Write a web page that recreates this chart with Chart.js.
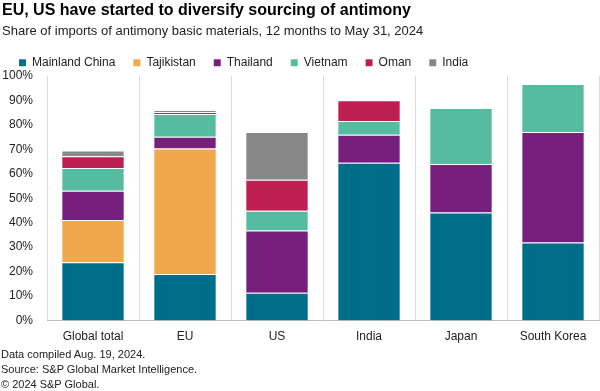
<!DOCTYPE html>
<html>
<head>
<meta charset="utf-8">
<script src="https://cdn.jsdelivr.net/npm/chart.js@4"></script>
<style>
  html, body { margin: 0; padding: 0; background: #fff; }
  #wrap { position: relative; width: 600px; height: 391px; }
  #wrap canvas { position: absolute; left: 0; top: 0; }
  .note { position: absolute; left: 1px; font: 11px "Liberation Sans", Arial, sans-serif; color: #222; white-space: nowrap; }
</style>
</head>
<body>
<div id="wrap">
  <canvas id="chart" width="600" height="391"></canvas>
  <div class="note" style="top:348px">Data compiled Aug. 19, 2024.</div>
  <div class="note" style="top:363px">Source: S&amp;P Global Market Intelligence.</div>
  <div class="note" style="top:378px">© 2024 S&amp;P Global.</div>
</div>
<script>
// share of imports (%)
var categories = ["Global total", "EU", "US", "India", "Japan", "South Korea"];
var mainlandChina = [23.8, 19.0, 11.4, 64.5, 44.2, 31.9];
var tajikistan    = [17.3, 51.3, 0, 0, 0, 0];
var thailand      = [11.9, 4.8, 25.4, 11.4, 19.8, 45.1];
var vietnam       = [9.3, 9.3, 8.1, 5.6, 22.8, 19.7];
var oman          = [4.8, 0.8, 12.6, 8.5, 0, 0];
var india         = [2.4, 0.8, 19.5, 0, 0, 0];

var FONT = "'Liberation Sans', Arial, sans-serif";

function series(label, data, color) {
  return {
    label: label,
    data: data,
    backgroundColor: color,
    borderColor: "rgba(255,255,255,0.35)",
    borderWidth: { top: 1, bottom: 0, left: 0, right: 0 },
    borderSkipped: false,
    barPercentage: 0.67,
    categoryPercentage: 1
  };
}

// nudge the legend so the first box sits where the reference has it
var legendShift = {
  id: "legendShift",
  afterLayout: function(chart) {
    if (chart.legend) {
      chart.legend.left = 1;
      chart.legend.top += 3;
    }
  }
};

new Chart(document.getElementById("chart"), {
  type: "bar",
  data: {
    labels: categories,
    datasets: [
      series("Mainland China", mainlandChina, "#006e8a"),
      series("Tajikistan", tajikistan, "#f1a84c"),
      series("Thailand", thailand, "#761f7d"),
      series("Vietnam", vietnam, "#56bca0"),
      series("Oman", oman, "#be1f51"),
      series("India", india, "#878787")
    ]
  },
  options: {
    responsive: false,
    animation: false,
    layout: { padding: { left: 2, right: 1, top: 0, bottom: 38 } },
    plugins: {
      title: {
        display: true,
        text: "EU, US have started to diversify sourcing of antimony",
        align: "start",
        color: "#000",
        font: { family: FONT, size: 16, weight: "bold" },
        padding: { top: 1, bottom: 0 }
      },
      subtitle: {
        display: true,
        text: "Share of imports of antimony basic materials, 12 months to May 31, 2024",
        align: "start",
        color: "#222",
        font: { family: FONT, size: 13 },
        padding: { top: 3, bottom: -3 }
      },
      legend: {
        position: "top",
        align: "start",
        labels: {
          boxWidth: 7,
          boxHeight: 7,
          padding: 18,
          color: "#222",
          font: { family: FONT, size: 12 }
        }
      },
      tooltip: { enabled: false }
    },
    scales: {
      x: {
        stacked: true,
        grid: { display: true, offset: true, color: "#d9d9d9", drawTicks: false },
        border: { display: true, color: "#bfbfbf" },
        ticks: { color: "#222", padding: 9, font: { family: FONT, size: 12 } }
      },
      y: {
        stacked: true,
        min: 0,
        max: 100,
        grid: { display: false, drawTicks: false },
        border: { display: false },
        afterFit: function(scale) { scale.width = 45; },
        ticks: {
          stepSize: 10,
          padding: 14,
          color: "#222",
          font: { family: FONT, size: 12 },
          callback: function(v) { return v + "%"; }
        }
      }
    }
  },
  plugins: [legendShift]
});
</script>
</body>
</html>
